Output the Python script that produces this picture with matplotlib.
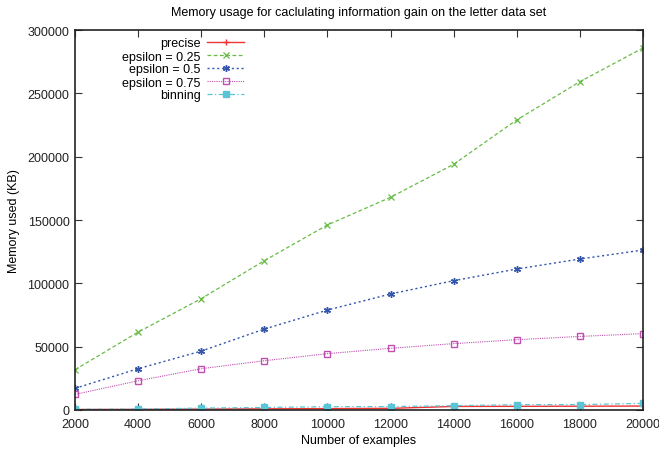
#!/usr/bin/env python3
"""Memory usage for information gain on the letter data set (gnuplot-style)."""

import matplotlib
matplotlib.use("Agg")
import matplotlib.pyplot as plt

plt.rcParams["font.family"] = ["Liberation Sans", "DejaVu Sans"]
plt.rcParams["font.size"] = 9

examples = [2000, 4000, 6000, 8000, 10000, 12000, 14000, 16000, 18000, 20000]
precise = [400, 500, 700, 900, 1100, 1300, 2800, 2900, 3000, 3100]
eps_025 = [31800, 61500, 87900, 117900, 146100, 167900, 194000, 229000, 259200, 285800]
eps_05 = [17100, 32600, 46500, 63900, 78900, 91600, 102100, 111300, 119200, 126300]
eps_075 = [12300, 23100, 32600, 38900, 44500, 48700, 52400, 55500, 58100, 60300]
binning = [600, 700, 1500, 2000, 2600, 2700, 3400, 4200, 4300, 5200]

x_ticks = list(range(2000, 20001, 2000))
y_ticks = list(range(0, 300001, 50000))

fig = plt.figure(figsize=(6.59, 4.52), dpi=100)
ax = fig.add_axes([75 / 659, 1 - 411 / 452, 568 / 659, 380 / 452])

ax.plot(examples, precise, color="#ee3333", linestyle="-", linewidth=1.0,
        marker="+", markersize=5, markeredgewidth=1.0, label="precise")
ax.plot(examples, eps_025, color="#66bb44", linestyle=(0, (3, 2)), linewidth=0.9,
        marker="x", markersize=4.5, markeredgewidth=0.9, label="epsilon = 0.25")
ax.plot(examples, eps_05, color="#3355aa", linestyle=(0, (1.5, 2)), linewidth=1.0,
        marker=(6, 2, 0), markersize=5, markeredgewidth=1.0, label="epsilon = 0.5")
ax.plot(examples, eps_075, color="#c050b0", linestyle=(0, (1, 1)), linewidth=0.8,
        marker="s", markersize=5, markerfacecolor="none", markeredgewidth=1.0,
        label="epsilon = 0.75")
ax.plot(examples, binning, color="#5bc5d8", linestyle=(0, (4, 2, 1, 2)), linewidth=0.9,
        marker="s", markersize=5, label="binning")

ax.set_xlim(2000, 20000)
ax.set_ylim(0, 300000)
ax.set_xticks(x_ticks)
ax.set_yticks(y_ticks)
ax.tick_params(direction="in", top=True, right=True, length=5, width=0.8,
               colors="#333333", labelcolor="#222222")
ax.tick_params(axis="x", pad=6)
ax.tick_params(axis="y", pad=4)
for spine in ax.spines.values():
    spine.set_linewidth(1.2)
    spine.set_color("#222222")

ax.set_xlabel("Number of examples", labelpad=3)
ax.set_ylabel("Memory used (KB)", labelpad=5)
ax.set_title("Memory usage for caclulating information gain on the letter data set",
             fontsize=9, pad=11)

leg = ax.legend(loc="upper left", bbox_to_anchor=(0.07, 1.0), frameon=False,
                markerfirst=False, handlelength=3.0, handletextpad=0.5,
                labelspacing=0.08, borderaxespad=0.2, fontsize=9)
for column in leg._legend_box._children[-1]._children:
    column.align = "right"

fig.savefig("out.png", dpi=100)
